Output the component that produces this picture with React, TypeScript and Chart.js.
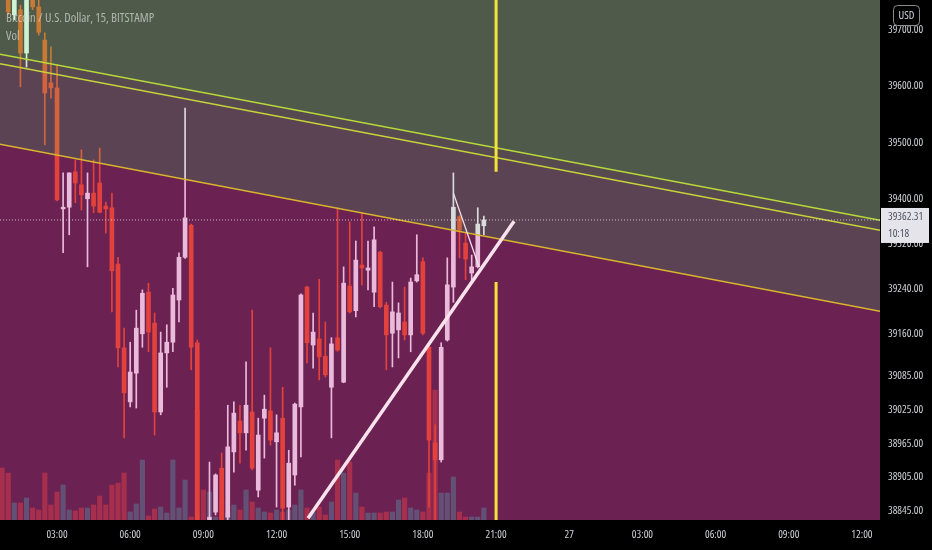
import { useEffect, useRef } from 'react';
import { Chart, registerables } from 'chart.js';

Chart.register(...registerables);

// 15-minute bar index counted from 26th 00:00 (index 12 = 03:00)
const barIndex = [
  3, 4, 5, 6, 7, 8, 9, 10, 11, 12, 13, 14, 15, 16, 17, 18, 19, 20, 21, 22,
  23, 24, 25, 26, 27, 28, 29, 30, 31, 32, 33, 34, 35, 36, 37, 38, 39, 40, 41, 42,
  43, 44, 45, 46, 47, 48, 49, 50, 51, 52, 53, 54, 55, 56, 57, 58, 59, 60, 61, 62,
  63, 64, 65, 66, 67, 68, 69, 70, 71, 72, 73, 74, 75, 76, 77, 78, 79, 80, 81, 82,
];
const opens = [
  39800, 39771, 39727, 39736, 39659, 39762, 39741, 39682, 39606, 39597, 39382, 39385, 39448, 39425, 39400, 39410, 39428, 39387, 39384, 39284,
  39135, 39039, 39090, 39160, 39234, 39179, 39021, 39126, 39145, 39220, 39296, 39353, 39144, 38800, 38790, 38843, 38921, 38834, 38950, 39005,
  38984, 39021, 38882, 39010, 39023, 38968, 39010, 38852, 38909, 39030, 39243, 39140, 39151, 39120, 39065, 39153, 39074, 39245, 39201, 39282,
  39273, 39234, 39305, 39211, 39161, 39167, 39181, 39158, 39254, 39288, 39136, 38966, 38936, 39149, 39243, 39368, 39321, 39268, 39279, 39352,
];
const highs = [
  39815, 39789, 39780, 39744, 39771, 39771, 39753, 39695, 39670, 39638, 39446, 39446, 39469, 39487, 39446, 39469, 39490, 39394, 39410, 39296,
  39170, 39145, 39202, 39238, 39250, 39197, 39163, 39176, 39241, 39304, 39561, 39355, 39149, 38815, 38932, 38911, 38948, 39033, 39039, 39033,
  39110, 39202, 39010, 39051, 39135, 39016, 39065, 38953, 39037, 39231, 39245, 39197, 39257, 39181, 39153, 39384, 39279, 39359, 39325, 39375,
  39325, 39350, 39307, 39216, 39252, 39215, 39243, 39259, 39336, 39295, 39138, 38998, 39144, 39295, 39446, 39370, 39339, 39300, 39384, 39369,
];
const lows = [
  39770, 39727, 39718, 39599, 39634, 39736, 39691, 39496, 39579, 39396, 39304, 39336, 39393, 39380, 39279, 39375, 39375, 39339, 39199, 39101,
  38975, 39030, 39028, 39136, 39128, 38980, 39016, 39065, 39128, 39181, 39294, 39096, 38776, 38740, 38770, 38838, 38793, 38811, 38914, 38930,
  38953, 38918, 38870, 38939, 38962, 38852, 38825, 38820, 38891, 38941, 39108, 39099, 39078, 39083, 38975, 39129, 39073, 39197, 39190, 39247,
  39238, 39208, 39206, 39096, 39101, 39117, 39149, 39128, 39252, 39158, 38852, 38829, 38932, 39147, 39216, 39295, 39256, 39252, 39277, 39336,
];
const closes = [
  39785, 39732, 39771, 39659, 39762, 39741, 39696, 39588, 39597, 39398, 39385, 39446, 39428, 39407, 39410, 39387, 39376, 39382, 39272, 39135,
  39055, 39092, 39170, 39232, 39163, 39021, 39126, 39145, 39229, 39296, 39366, 39136, 38793, 38760, 38834, 38909, 38811, 38959, 39019, 38984,
  39033, 38921, 38980, 39026, 38971, 38984, 38850, 38930, 39035, 39229, 39144, 39163, 39119, 39087, 39142, 39131, 39250, 39199, 39291, 39277,
  39277, 39327, 39208, 39158, 39199, 39197, 39158, 39252, 39265, 39161, 38971, 38936, 39136, 39247, 39385, 39344, 39293, 39279, 39355, 39362.31,
];
const volumes = [
  26, 23.5, 8.5, 8.5, 11, 6, 5, 23.5, 7.5, 14, 17.5, 5, 4.5, 6, 6, 7.5, 12, 7.5, 17.5, 18.5,
  23.5, 4, 8, 30, 2, 5.5, 6.5, 3.5, 30, 6, 20, 1.5, 55, 15, 14, 1.5, 10, 3.5, 7.5, 5,
  15, 9, 6, 4, 3.5, 5, 4, 5, 7.5, 15, 6, 4, 6.5, 2.5, 9, 30, 23.5, 29, 13.5, 6.5,
  3.5, 3.5, 3.5, 4, 4, 10, 11, 6, 5, 4, 23.5, 65, 13.5, 13.5, 21.5, 4, 1.5, 1.5, 1.5, 6,
];

const priceTicks = [38845, 38905, 38965, 39025, 39085, 39160, 39240, 39320, 39400, 39500, 39600, 39700];
const timeTickPositions = [12, 24, 36, 48, 60, 72, 84, 96, 108, 120, 132, 144];
const timeTickLabels = ['03:00', '06:00', '09:00', '12:00', '15:00', '18:00', '21:00', '27', '03:00', '06:00', '09:00', '12:00'];

// drawings (time index, price)
const viewTime = [2.65, 146.96];
const viewPrice = [38829, 39753.3];
const channelTop1 = [39657, 39362];
const channelTop2 = [39640, 39344];
const channelBottom = [39497, 39200];
const markerTime = 84;
const markerUpper = [39760, 39448];
const markerLower = [39252, 38820];
const riseTime = [53.16, 86.95];
const risePrice = [38832, 39360];
const dropTime = [77, 81.2];
const dropPrice = [39410, 39279];
const lastPrice = 39362.31;
const countdown = '10:18';
const titleText = 'Bitcoin / U.S. Dollar, 15, BITSTAMP';
const volText = 'Vol';
const currencyText = 'USD';

const FAMILY = "'Open Sans', 'Noto Sans', sans-serif";
const cf = (size: number) => `condensed ${size}px ${FAMILY}`;

const pts = (xs: number[], ys: number[]) => xs.map((x, i) => ({ x, y: ys[i] }));

export default function App() {
  const ref = useRef<HTMLCanvasElement>(null);

  useEffect(() => {
    document.body.style.margin = '0';
    const canvas = ref.current;
    if (!canvas) return;

    const up = closes.map((c, i) => c >= opens[i]);
    const candleCol = up.map((u) => (u ? '#ffffff' : '#f5460a'));
    const volCol = up.map((u) => (u ? 'rgba(38,166,154,0.5)' : 'rgba(242,64,30,0.5)'));

    const bgPlugin = {
      id: 'bg',
      beforeDraw(chart: any) {
        const { ctx, chartArea: a, width, height } = chart;
        ctx.save();
        ctx.fillStyle = '#000000';
        ctx.fillRect(0, 0, width, height);
        ctx.fillStyle = 'rgb(60,20,45)';
        ctx.fillRect(a.left, a.top, a.right - a.left, a.bottom - a.top);
        ctx.restore();
      },
    };

    const textPlugin = {
      id: 'texts',
      afterDraw(chart: any) {
        const { ctx, chartArea: a } = chart;
        const ys = chart.scales.y;
        ctx.save();
        ctx.font = cf(12.5);
        ctx.fillStyle = 'rgba(215,218,210,0.72)';
        ctx.textBaseline = 'alphabetic';
        ctx.textAlign = 'left';
        ctx.fillText(titleText, 6, 22);
        ctx.fillText(volText, 6, 40);

        // USD box
        ctx.strokeStyle = '#8c8c8c';
        ctx.lineWidth = 1;
        ctx.beginPath();
        (ctx as any).roundRect(893.5, 5.5, 26, 20, 4);
        ctx.stroke();
        ctx.font = cf(11);
        ctx.fillStyle = '#d1d4dc';
        ctx.textAlign = 'center';
        ctx.textBaseline = 'middle';
        ctx.fillText(currencyText, 906.5, 16);

        // last price box
        const py = ys.getPixelForValue(lastPrice);
        ctx.fillStyle = '#e4e4ea';
        ctx.fillRect(a.right + 1, py - 12, 48, 35);
        ctx.fillStyle = '#4e5260';
        ctx.textAlign = 'left';
        ctx.font = cf(11);
        ctx.fillText(lastPrice.toFixed(2), a.right + 8, py - 3);
        ctx.fillText(countdown, a.right + 8, py + 14);
        ctx.restore();
      },
    };

    const chart = new Chart(canvas, {
      type: 'bar',
      data: {
        datasets: [
          {
            type: 'bar',
            data: pts(barIndex, volumes) as any,
            backgroundColor: volCol,
            yAxisID: 'yVol',
            barThickness: 4.5,
            grouped: false,
            order: 10,
          },
          {
            type: 'bar',
            data: barIndex.map((x, i) => ({ x, y: [lows[i], highs[i]] })) as any,
            backgroundColor: candleCol,
            barThickness: 1,
            grouped: false,
            order: 9,
          },
          {
            type: 'bar',
            data: barIndex.map((x, i) => ({ x, y: [opens[i], closes[i]] })) as any,
            backgroundColor: candleCol,
            barThickness: 4,
            minBarLength: 1.5,
            grouped: false,
            order: 8,
          },
          {
            type: 'line',
            data: pts(viewTime, channelTop1) as any,
            borderColor: '#b9d93a',
            borderWidth: 1.5,
            backgroundColor: 'rgba(114,220,131,0.35)',
            fill: 'end',
            pointRadius: 0,
            order: 5,
          },
          {
            type: 'line',
            data: pts(viewTime, channelTop2) as any,
            borderColor: '#c6d43a',
            borderWidth: 1.5,
            backgroundColor: 'rgba(135,175,145,0.35)',
            fill: 3,
            pointRadius: 0,
            order: 5,
          },
          {
            type: 'line',
            data: pts(viewTime, channelBottom) as any,
            borderColor: '#d9b52e',
            borderWidth: 1.6,
            backgroundColor: 'rgba(149,154,154,0.35)',
            fill: 4,
            pointRadius: 0,
            order: 5,
          },
          {
            type: 'line',
            data: pts(viewTime, channelBottom) as any,
            borderWidth: 0,
            borderColor: 'rgba(0,0,0,0)',
            backgroundColor: 'rgba(194,57,151,0.35)',
            fill: 'start',
            pointRadius: 0,
            order: 6,
          },
          {
            type: 'line',
            data: pts(viewTime, [lastPrice, lastPrice]) as any,
            borderColor: 'rgba(235,235,235,0.75)',
            borderWidth: 1,
            borderDash: [1, 2],
            pointRadius: 0,
            fill: false,
            order: 2,
          },
          {
            type: 'line',
            data: pts([markerTime, markerTime], markerUpper) as any,
            borderColor: '#f4e43a',
            borderWidth: 3,
            pointRadius: 0,
            fill: false,
            order: 1,
          },
          {
            type: 'line',
            data: pts([markerTime, markerTime], markerLower) as any,
            borderColor: '#f4e43a',
            borderWidth: 3,
            pointRadius: 0,
            fill: false,
            order: 1,
          },
          {
            type: 'line',
            data: pts(riseTime, risePrice) as any,
            borderColor: '#f8e2ec',
            borderWidth: 3.5,
            pointRadius: 0,
            fill: false,
            order: 1,
          },
          {
            type: 'line',
            data: pts(dropTime, dropPrice) as any,
            borderColor: '#f2e2ea',
            borderWidth: 1.3,
            pointRadius: 0,
            fill: false,
            order: 1,
          },
        ],
      },
      options: {
        responsive: false,
        animation: false,
        devicePixelRatio: 1,
        layout: { padding: 0 },
        plugins: { legend: { display: false }, tooltip: { enabled: false } },
        events: [],
        scales: {
          x: {
            type: 'linear',
            position: 'bottom',
            min: viewTime[0],
            max: viewTime[1],
            offset: false,
            grid: { display: false, drawTicks: false },
            border: { display: false },
            afterBuildTicks: (axis: any) => {
              axis.ticks = timeTickPositions.map((v) => ({ value: v }));
            },
            afterFit: (axis: any) => {
              axis.height = 30;
              axis.paddingLeft = 0;
              axis.paddingRight = 0;
              axis.paddingTop = 0;
              axis.paddingBottom = 0;
            },
            ticks: {
              autoSkip: false,
              maxRotation: 0,
              padding: 8,
              color: '#cfd1d6',
              font: { family: FAMILY, size: 11, weight: 'condensed' },
              callback: (v: any) => {
                const k = timeTickPositions.indexOf(Number(v));
                return k >= 0 ? timeTickLabels[k] : '';
              },
            },
          },
          y: {
            type: 'linear',
            position: 'right',
            min: viewPrice[0],
            max: viewPrice[1],
            grid: { display: false, drawTicks: false },
            border: { display: false },
            afterBuildTicks: (axis: any) => {
              axis.ticks = priceTicks.map((v) => ({ value: v }));
            },
            afterFit: (axis: any) => {
              axis.width = 52;
              axis.paddingLeft = 0;
              axis.paddingRight = 0;
              axis.paddingTop = 0;
              axis.paddingBottom = 0;
            },
            ticks: {
              autoSkip: false,
              padding: 8,
              color: '#cfd1d6',
              font: { family: FAMILY, size: 11, weight: 'condensed' },
              callback: (v: any) => Number(v).toFixed(2),
            },
          },
          yVol: {
            type: 'linear',
            display: false,
            min: 0,
            max: 260,
          },
        },
      } as any,
      plugins: [bgPlugin, textPlugin],
    });

    return () => chart.destroy();
  }, []);

  return (
    <div style={{ width: 932, height: 550 }}>
      <canvas ref={ref} width={932} height={550} style={{ display: 'block' }} />
    </div>
  );
}
